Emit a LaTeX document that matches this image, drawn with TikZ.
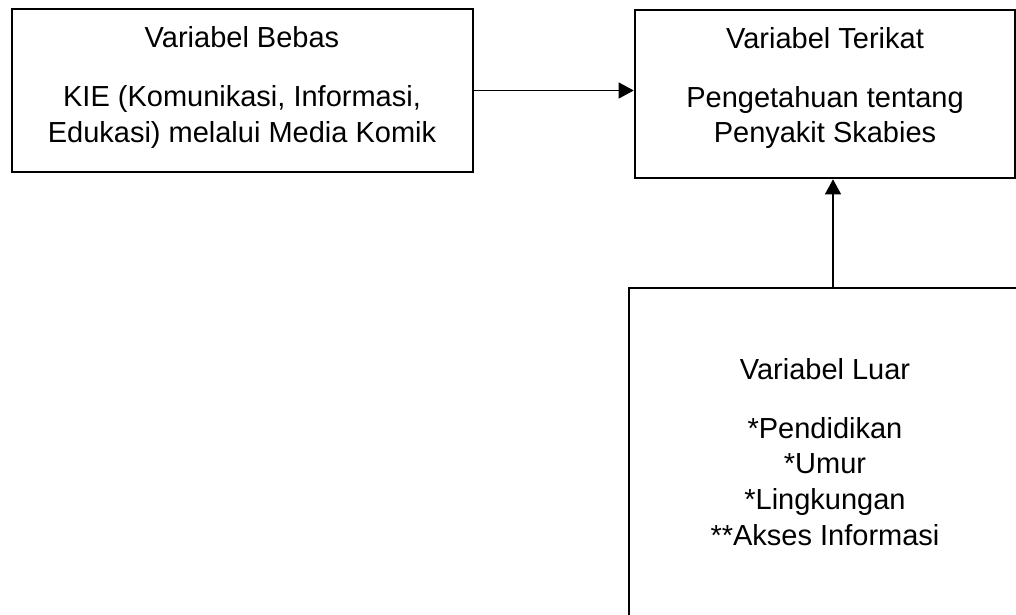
\documentclass[tikz,border=0pt]{standalone}
\usepackage{fontspec}
\setmainfont{Liberation Sans}
\usetikzlibrary{arrows.meta}
\begin{document}
\begin{tikzpicture}[x=1pt,y=-1pt,
  boxshape/.style={draw=black,line width=2.6pt,rectangle,inner sep=0pt},
  txt/.style={align=center,inner sep=0pt,font=\fontsize{29pt}{35.6pt}\selectfont},
  conn/.style={draw=black,line width=1.1pt,-{Triangle[length=15pt,width=16pt]}}]
\useasboundingbox (0,0) rectangle (1016,614);
\clip (0,0) rectangle (1016,614);
% boxes
\node[boxshape,minimum width=461pt,minimum height=163pt] (b1) at (242.5,90.5) {};
\node[boxshape,minimum width=380pt,minimum height=168pt] (b2) at (825,94) {};
\node[boxshape,minimum width=392pt,minimum height=330pt] (b3) at (825,453) {};
% texts
\node[txt] (t1) at (242,87.5) {Variabel Bebas\\[23pt]KIE (Komunikasi, Informasi,\\Edukasi) melalui Media Komik};
\node[txt] (t2) at (825,88) {Variabel Terikat\\[23pt]Pengetahuan tentang\\Penyakit Skabies};
\node[txt] (t3) at (825,452) {Variabel Luar\\[23pt]*Pendidikan\\*Umur\\*Lingkungan\\**Akses Informasi};
% connectors
\draw[conn] (b1.east) -- (b2.west |- b1.east);
\draw[conn] ([xshift=8pt]b3.north) -- ([xshift=8pt]b3.north |- b2.south);
\end{tikzpicture}
\end{document}
